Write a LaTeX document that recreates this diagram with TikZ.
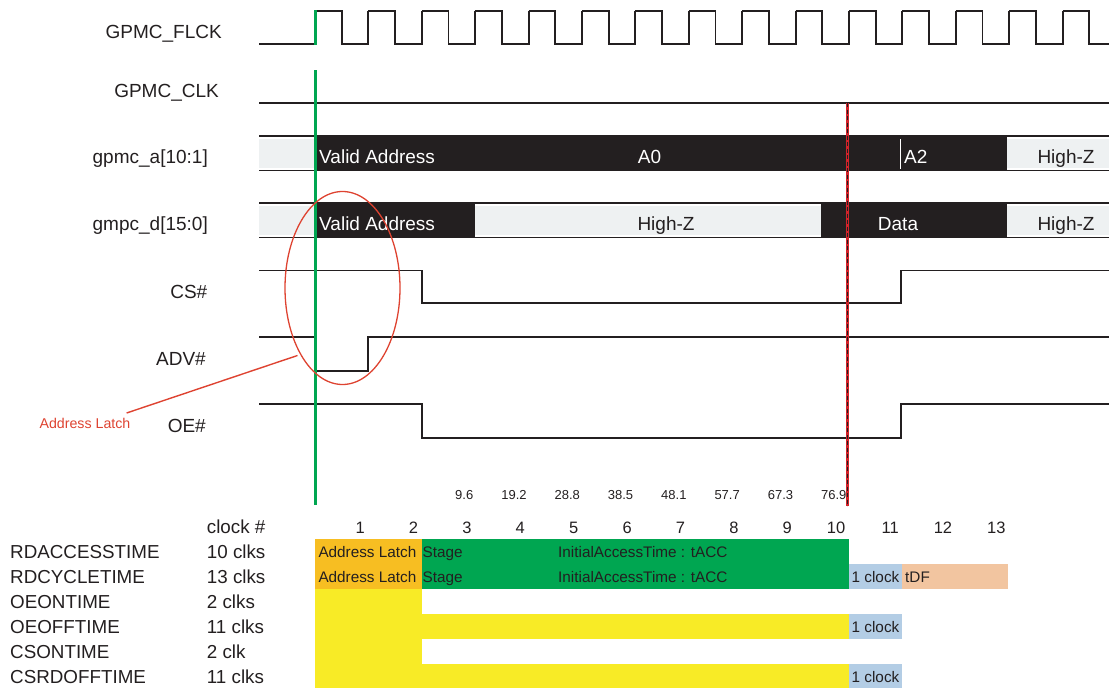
\documentclass[tikz,border=0pt]{standalone}
\usepackage{fontspec}
\setmainfont{Liberation Sans}
\definecolor{ink}{HTML}{231F20}
\definecolor{busgray}{HTML}{EEF1F2}
\definecolor{tgreen}{HTML}{00A651}
\definecolor{torange}{HTML}{F7BE22}
\definecolor{tyellow}{HTML}{F8EB26}
\definecolor{tblue}{HTML}{B3CDE5}
\definecolor{tpeach}{HTML}{F2C5A0}
\definecolor{ared}{HTML}{DE4331}
\definecolor{dred}{HTML}{D2232A}
\begin{document}
\begin{tikzpicture}[x=1pt,y=-1pt,
  wave/.style={draw=ink, line width=1.9pt},
  busline/.style={draw=ink, line width=1.7pt},
  siglab/.style={font=\fontsize{19}{19}\selectfont, text=ink, inner sep=0pt, text height=13.6pt, text depth=0pt, anchor=east},
  bustxt/.style={font=\fontsize{19}{19}\selectfont, inner sep=0pt, text height=13.6pt, text depth=0pt},
  tablab/.style={font=\fontsize{18.8}{19}\selectfont, text=ink, inner sep=0pt, text height=13.4pt, text depth=0pt, anchor=west},
  bartxt/.style={font=\fontsize{15.3}{16}\selectfont, text=ink, inner sep=0pt, text height=11pt, text depth=0pt, anchor=west},
  clknum/.style={font=\fontsize{16.5}{17}\selectfont, text=ink, inner sep=0pt, text height=11.8pt, text depth=0pt, anchor=east},
  tnum/.style={font=\fontsize{13}{14}\selectfont, text=ink, inner sep=0pt, text height=9.3pt, text depth=0pt, anchor=east},
  redlab/.style={font=\fontsize{14.2}{15}\selectfont, text=ared, inner sep=0pt, text height=10.2pt, text depth=0pt},
  markline/.style={draw=tgreen, line width=3pt}
]
\useasboundingbox (0,0) rectangle (1109,688);

% ---------- signal labels ----------
\node[siglab] (lflck) at (222,32) {GPMC\_FLCK};
\node[siglab] (lclk)  at (219,91) {GPMC\_CLK};
\node[siglab] (la)    at (208,157) {gpmc\_a[10:1]};
\node[siglab] (ld)    at (208,223.5) {gmpc\_d[15:0]};
\node[siglab] (lcs)   at (207.5,291.3) {CS\#};
\node[siglab] (ladv)  at (206,358.3) {ADV\#};
\node[siglab] (loe)   at (206,425.3) {OE\#};

% ---------- GPMC_FLCK ----------
\draw[wave] (259,44) -- (315,44) -- (315,11);
\foreach \k in {0,...,13}{
  \pgfmathsetmacro{\r}{315+53.4*\k}
  \draw[wave] (\r,11) -- ({\r+26.7},11) -- ({\r+26.7},44) -- ({\r+53.4},44) -- ({\r+53.4},11);
}
\draw[wave] (1062.6,11) -- (1089.3,11) -- (1089.3,44) -- (1109,44);

% ---------- GPMC_CLK ----------
\draw[wave] (259,103) -- (1109,103);

% ---------- gpmc_a bus ----------
\fill[busgray] (259,138.5) rectangle (315,168);
\fill[ink] (315,136) rectangle (1007,171);
\fill[busgray] (1007,138.5) rectangle (1109,168);
\draw[busline] (259,136) -- (1109,136);
\draw[busline] (259,170.5) -- (1109,170.5);
\draw[white, line width=1.5pt] (900.7,139) -- (900.7,168.5);
\node[bustxt, text=white, anchor=west] (va1) at (319,156.3) {Valid Address};
\node[bustxt, text=white] (a0) at (649.5,156.3) {A0};
\node[bustxt, text=white, anchor=west] (a2) at (904,156.3) {A2};
\node[bustxt, text=ink] (hz1) at (1066,156.3) {High-Z};

% ---------- gmpc_d bus ----------
\fill[busgray] (259,205.5) rectangle (315,235);
\fill[ink] (315,203) rectangle (475,238);
\fill[busgray] (475,205.5) rectangle (821,235);
\fill[ink] (821,203) rectangle (1007,238);
\fill[busgray] (1007,205.5) rectangle (1109,235);
\draw[busline] (259,203) -- (1109,203);
\draw[busline] (259,237.5) -- (1109,237.5);
\node[bustxt, text=white, anchor=west] (va2) at (319,223.5) {Valid Address};
\node[bustxt, text=ink] (hz2) at (666,223.5) {High-Z};
\node[bustxt, text=white] (data) at (898,223.5) {Data};
\node[bustxt, text=ink] (hz3) at (1066,223.5) {High-Z};

% ---------- CS#, ADV#, OE# ----------
\draw[wave] (259,270.5) -- (421.7,270.5) -- (421.7,303.3) -- (900.7,303.3) -- (900.7,270.5) -- (1109,270.5);
\draw[wave] (259,337.3) -- (315,337.3) -- (315,370.7) -- (368.3,370.7) -- (368.3,337.3) -- (1109,337.3);
\draw[wave] (259,404.3) -- (421.7,404.3) -- (421.7,438.3) -- (900.7,438.3) -- (900.7,404.3) -- (1109,404.3);

% ---------- red dashed marker ----------
\draw[dred, line width=2.6pt] (847.5,103) -- (847.5,506);
\draw[ink, line width=1.5pt, dash pattern=on 4pt off 2.5pt] (847.5,103) -- (847.5,506);

% ---------- green marker ----------
\draw[markline] (315,10) -- (315,45);
\draw[markline] (315,70) -- (315,505);

% ---------- address latch annotation ----------
\draw[ared, line width=1.3pt] (342.5,288) ellipse [x radius=57.5, y radius=96.5];
\node[redlab] (alab) at (85,423) {Address Latch};
\coordinate (lpt) at (297.5,355.5);
\draw[ared, line width=1.4pt] ([xshift=-4pt,yshift=4.7pt]alab.north east) -- (lpt);

% ---------- time numbers ----------
\foreach \t [count=\i from 0] in {9.6,19.2,28.8,38.5,48.1,57.7,67.3,76.9}{
  \node[tnum] (t\i) at ({473.5+53.3*\i},494.8) {\t};
}

% ---------- clock numbers ----------
\node[tablab] (clkh) at (206.7,526.3) {clock \#};
\foreach \k in {1,...,13}{
  \node[clknum] (c\k) at ({315+53.4*\k-3.5},527.8) {\k};
}

% ---------- table bars ----------
% row1
\fill[torange] (315,539.2) rectangle (421.8,564.2);
\fill[tgreen] (421.8,539.2) rectangle (849,564.2);
% row2
\fill[torange] (315,564.2) rectangle (421.8,589.2);
\fill[tgreen] (421.8,564.2) rectangle (849,589.2);
\fill[tblue] (849,564.2) rectangle (902.4,589.2);
\fill[tpeach] (902.4,564.2) rectangle (1008,589.2);
% row3
\fill[tyellow] (315,589.2) rectangle (421.8,614.2);
% row4
\fill[tyellow] (315,614.2) rectangle (849,639.2);
\fill[tblue] (849,614.2) rectangle (902.4,639.2);
% row5
\fill[tyellow] (315,639.2) rectangle (421.8,664.2);
% row6
\fill[tyellow] (315,664.2) rectangle (849,689.2);
\fill[tblue] (849,664.2) rectangle (902.4,689.2);

% bar texts
\node[bartxt] (r1a) at (318.3,551.7) {Address Latch};
\node[bartxt] (r1b) at (422.5,551.7) {Stage};
\node[bartxt] (r1c) at (558,551.7) {InitialAccessTime : tACC};
\node[bartxt] (r2a) at (318.3,576.7) {Address Latch};
\node[bartxt] (r2b) at (422.5,576.7) {Stage};
\node[bartxt] (r2c) at (558,576.7) {InitialAccessTime : tACC};
\node[bartxt] (r2d) at (851.5,576.7) {1 clock};
\node[bartxt] (r2e) at (905,576.7) {tDF};
\node[bartxt] (r4a) at (851.5,626.7) {1 clock};
\node[bartxt] (r6a) at (851.5,676.7) {1 clock};

% table labels
\foreach \n/\v [count=\i from 0] in {RDACCESSTIME/10 clks, RDCYCLETIME/13 clks, OEONTIME/2 clks, OEOFFTIME/11 clks, CSONTIME/2 clk, CSRDOFFTIME/11 clks}{
  \node[tablab] (tn\i) at (10,{551.7+25*\i}) {\n};
  \node[tablab] (tv\i) at (206.7,{551.7+25*\i}) {\v};
}
\end{tikzpicture}
\end{document}
